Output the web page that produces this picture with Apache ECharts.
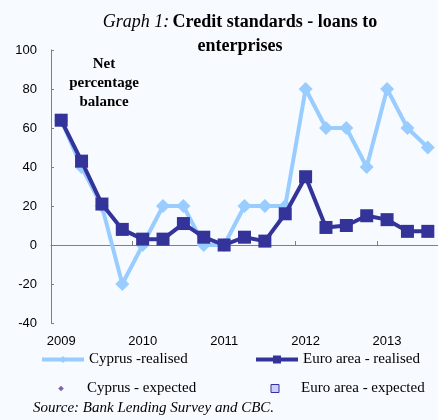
<!DOCTYPE html>
<html>
<head>
<meta charset="utf-8">
<script src="https://cdn.jsdelivr.net/npm/echarts@6/dist/echarts.min.js"></script>
<style>
html,body{margin:0;padding:0;background:#f7fbff;}
#chart{width:438px;height:420px;}
</style>
</head>
<body>
<div id="chart"></div>
<script>
const categories = ['2009','','','','2010','','','','2011','','','','2012','','','','2013','',''];
const cyprusRealised = [64, 40, 20, -20, 0, 20, 20, 0, 0, 20, 20, 20, 80, 60, 60, 40, 80, 60, 50];
const euroRealised = [64, 43, 21, 8, 3, 3, 11, 4, 0, 4, 2, 16, 35, 9, 10, 15, 13, 7, 7];
const cyprusExpected = [];
const euroExpected = [];
const seriesNames = ['Cyprus -realised', 'Euro area - realised', 'Cyprus - expected', 'Euro area - expected'];
const yMin = -40, yMax = 100, yStep = 20;

const chart = echarts.init(document.getElementById('chart'));
const legendText = {fontFamily: 'Liberation Serif', fontSize: 15, color: '#000'};
chart.setOption({
  backgroundColor: '#f7fbff',
  animation: false,
  grid: {left: 51, right: 0, top: 50, bottom: 97},
  xAxis: [{
    type: 'category', data: categories, position: 'bottom',
    axisLine: {show: false, onZero: false},
    axisTick: {show: false},
    axisLabel: {interval: 0, color: '#000', fontFamily: 'Liberation Sans', fontSize: 13, margin: 12}
  }, {
    type: 'category', data: categories, position: 'bottom',
    axisLine: {show: true, onZero: true, lineStyle: {color: '#808080', width: 1}},
    axisTick: {show: true, inside: true, interval: 3, length: 4, lineStyle: {color: '#808080'}},
    axisLabel: {show: false}
  }],
  yAxis: {
    type: 'value', min: yMin, max: yMax, interval: yStep,
    axisLine: {show: true, lineStyle: {color: '#808080'}},
    axisTick: {show: true, inside: true, length: 3, lineStyle: {color: '#808080'}},
    axisLabel: {color: '#000', fontFamily: 'Liberation Sans', fontSize: 13, margin: 14},
    splitLine: {show: false}
  },
  legend: [
    {data: [seriesNames[0]], left: 40, top: 352, itemWidth: 42, itemHeight: 9, textStyle: legendText, padding: 0, lineStyle: {width: 4}},
    {data: [seriesNames[1]], left: 254, top: 352, itemWidth: 42, itemHeight: 10, textStyle: legendText, padding: 0, lineStyle: {width: 4}},
    {data: [seriesNames[2]], left: 40, top: 381, itemWidth: 42, itemHeight: 7, textStyle: legendText, padding: 0, lineStyle: {width: 0}},
    {data: [seriesNames[3]], left: 254, top: 381, itemWidth: 42, itemHeight: 10, textStyle: legendText, padding: 0, lineStyle: {width: 0},
     itemStyle: {color: '#ccccff', borderColor: '#333399', borderWidth: 1}}
  ],
  graphic: [
    {type: 'text', x: 240, y: 10, style: {
      text: '{i|Graph 1:} {b|Credit standards - loans to}\n{b|enterprises}',
      textAlign: 'center', lineHeight: 24,
      rich: {
        i: {fontFamily: 'Liberation Serif', fontStyle: 'italic', fontSize: 18, fill: '#000', lineHeight: 24},
        b: {fontFamily: 'Liberation Serif', fontWeight: 'bold', fontSize: 18, fill: '#000', lineHeight: 24}
      }
    }},
    {type: 'text', x: 104, y: 55, style: {
      text: 'Net\npercentage\nbalance', textAlign: 'center', lineHeight: 19,
      font: 'bold 15px "Liberation Serif"', fill: '#000'
    }},
    {type: 'text', x: 33, y: 401, style: {
      text: 'Source: Bank Lending Survey and CBC.',
      font: 'italic 15px "Liberation Serif"', fill: '#000'
    }}
  ],
  series: [
    {name: seriesNames[0], type: 'line', data: cyprusRealised, xAxisIndex: 0,
     symbol: 'diamond', symbolSize: 14, lineStyle: {color: '#99ccff', width: 4},
     itemStyle: {color: '#99ccff'}, z: 2},
    {name: seriesNames[1], type: 'line', data: euroRealised, xAxisIndex: 0,
     symbol: 'rect', symbolSize: 13, lineStyle: {color: '#333399', width: 4},
     itemStyle: {color: '#333399'}, z: 3},
    {name: seriesNames[2], type: 'line', data: cyprusExpected, xAxisIndex: 0,
     symbol: 'diamond', symbolSize: 6, lineStyle: {width: 0},
     itemStyle: {color: '#7f63a6'}},
    {name: seriesNames[3], type: 'line', data: euroExpected, xAxisIndex: 0,
     symbol: 'rect', symbolSize: 8, lineStyle: {width: 0},
     itemStyle: {color: '#ccccff', borderColor: '#333399', borderWidth: 1}}
  ]
});
</script>
</body>
</html>
